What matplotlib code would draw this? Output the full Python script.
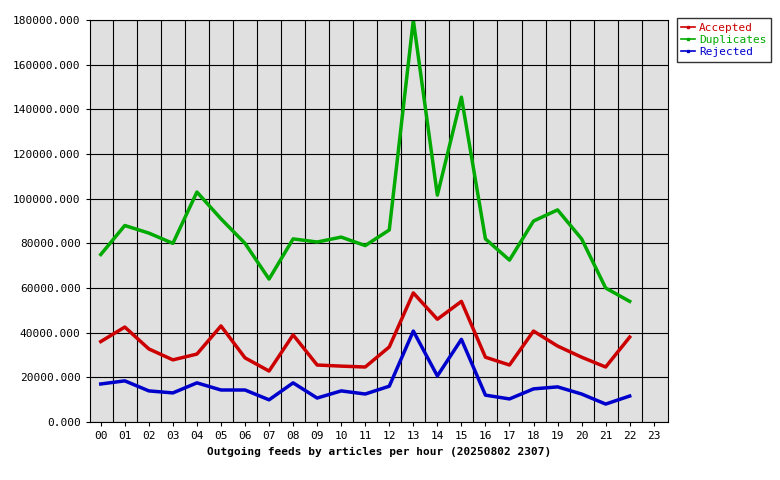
import numpy as np
import matplotlib
matplotlib.use("Agg")
import matplotlib.pyplot as plt

hours = [f"{h:02d}" for h in range(24)]
accepted = [36000, 42500, 32700, 27800, 30400, 43000, 28700, 22800, 39000, 25500, 25000, 24600,
            33600, 57800, 46000, 54000, 29000, 25500, 40700, 34000, 29000, 24600, 38000]
duplicates = [75000, 88000, 84600, 80000, 103000, 91000, 80000, 64000, 82000, 80600, 82800, 79000,
              86000, 180000, 101600, 145500, 82000, 72500, 90000, 95000, 82000, 60000, 54000]
rejected = [17000, 18400, 13900, 13000, 17500, 14300, 14300, 9900, 17500, 10700, 13900, 12500,
            16000, 40700, 20600, 37000, 12000, 10300, 14800, 15700, 12500, 8000, 11600]

plt.rcParams['font.family'] = 'DejaVu Sans Mono'
fig = plt.figure(figsize=(7.8, 4.8), dpi=100)
ax = fig.add_axes([0.115, 0.121, 0.741, 0.837])
ax.set_facecolor("#e0e0e0")

x = np.arange(len(accepted))
ax.plot(x, accepted, color="#cc0000", lw=2.5, label="Accepted")
ax.plot(x, duplicates, color="#00aa00", lw=2.5, label="Duplicates")
ax.plot(x, rejected, color="#0000cc", lw=2.5, label="Rejected")

ax.set_xlim(-0.46, 23.58)
ax.set_ylim(0, 180000)
ax.set_xticks(range(24))
ax.set_xticklabels(hours, fontsize=8)
ax.set_xticks(np.arange(0.5, 23.5, 1), minor=True)
yt = np.arange(0, 180001, 20000)
ax.set_yticks(yt)
ax.set_yticklabels([f"{v:.3f}" for v in yt], fontsize=8)
ax.tick_params(axis='x', which='minor', length=0)
ax.tick_params(length=3)
ax.grid(True, which='minor', axis='x', color='black', lw=0.8)
ax.grid(True, which='major', axis='y', color='black', lw=0.8)
ax.set_axisbelow(True)
ax.set_xlabel("Outgoing feeds by articles per hour (20250802 2307)", fontsize=8, fontweight='bold')

leg = fig.legend(loc='upper left', bbox_to_anchor=(0.868, 0.962), fontsize=8,
                 fancybox=False, edgecolor='black', handlelength=1.2, borderaxespad=0,
                 labelspacing=0.2, handletextpad=0.4)
for line, text in zip(leg.get_lines(), leg.get_texts()):
    line.set_linewidth(1.2)
    line.set_marker('s')
    line.set_markersize(2)
    text.set_color(line.get_color())

fig.savefig("out.png", dpi=100)
